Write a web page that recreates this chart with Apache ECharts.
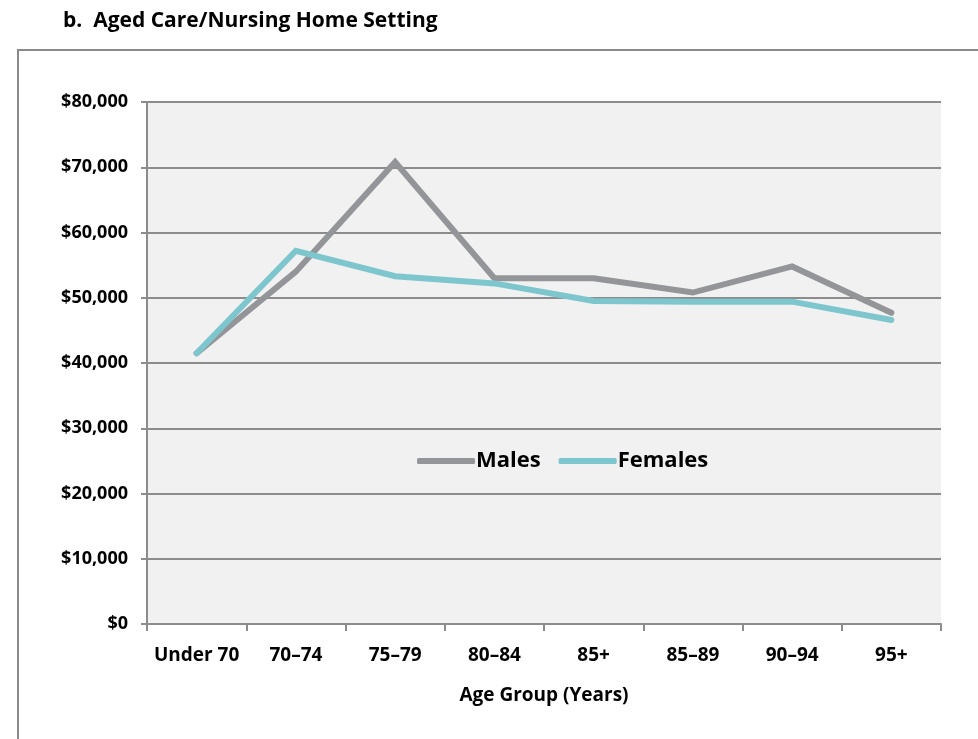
<!DOCTYPE html>
<html>
<head>
<meta charset="utf-8">
<script src="https://cdn.jsdelivr.net/npm/echarts@6/dist/echarts.min.js"></script>
<style>
  html, body { margin: 0; padding: 0; background: #fff; }
  #chart { width: 978px; height: 739px; }
</style>
</head>
<body>
<div id="chart"></div>
<script>
const ageGroups = ['Under 70', '70–74', '75–79', '80–84', '85+', '85–89', '90–94', '95+'];
const males = [41500, 54000, 70800, 53000, 53000, 50800, 54800, 47700];
const females = [41500, 57200, 53300, 52200, 49500, 49400, 49400, 46600];

const FONT = '"Open Sans", "Liberation Sans", sans-serif';
const MALE_COLOR = '#939598';
const FEMALE_COLOR = '#7ec6ce';

const chart = echarts.init(document.getElementById('chart'), null, { renderer: 'canvas' });

chart.setOption({
  animation: false,
  title: {
    text: 'b.  Aged Care/Nursing Home Setting',
    left: 58,
    top: 6,
    textStyle: { fontFamily: FONT, fontSize: 21, fontWeight: 'bold', color: '#000' },
  },
  graphic: [
    {
      type: 'rect',
      shape: { x: 18, y: 50, width: 1000, height: 760 },
      style: { fill: 'none', stroke: '#8a8a8a', lineWidth: 2 },
      silent: true,
    },
  ],
  legend: {
    left: 412,
    top: 445,
    itemWidth: 58,
    itemHeight: 6,
    itemGap: 18,
    textStyle: { fontFamily: FONT, fontSize: 22, fontWeight: 'bold', color: '#000', padding: [0, 0, 0, -4] },
    data: [
      { name: 'Males', icon: 'roundRect', itemStyle: { color: MALE_COLOR } },
      { name: 'Females', icon: 'roundRect', itemStyle: { color: FEMALE_COLOR } },
    ],
  },
  grid: {
    left: 147,
    right: 37,
    top: 102,
    bottom: 115,
    show: true,
    backgroundColor: '#f1f1f1',
    borderWidth: 0,
    containLabel: false,
  },
  xAxis: {
    type: 'category',
    data: ageGroups,
    boundaryGap: true,
    name: 'Age Group (Years)',
    nameLocation: 'middle',
    nameGap: 62,
    nameTextStyle: { fontFamily: FONT, fontSize: 19, fontWeight: 'bold', color: '#000' },
    axisLine: { lineStyle: { color: '#8c8c8c', width: 2 } },
    axisTick: { show: true, alignWithLabel: false, length: 7, lineStyle: { color: '#8c8c8c', width: 2 } },
    axisLabel: { fontFamily: FONT, fontSize: 19, fontWeight: 'bold', color: '#000', margin: 22, interval: 0 },
    splitLine: { show: false },
  },
  yAxis: {
    type: 'value',
    min: 0,
    max: 80000,
    interval: 10000,
    axisLine: { show: true, lineStyle: { color: '#8c8c8c', width: 2 } },
    axisTick: { show: true, length: 6, lineStyle: { color: '#8c8c8c', width: 2 } },
    axisLabel: {
      fontFamily: FONT,
      fontSize: 18,
      fontWeight: 'bold',
      color: '#000',
      margin: 19,
      formatter: (v) => '$' + v.toLocaleString('en-US'),
    },
    splitLine: { show: true, lineStyle: { color: '#8c8c8c', width: 2 } },
  },
  series: [
    {
      name: 'Males',
      type: 'line',
      data: males,
      symbol: 'none',
      lineStyle: { color: MALE_COLOR, width: 6, cap: 'round', join: 'miter' },
      itemStyle: { color: MALE_COLOR },
      z: 3,
    },
    {
      name: 'Females',
      type: 'line',
      data: females,
      symbol: 'none',
      lineStyle: { color: FEMALE_COLOR, width: 6, cap: 'round', join: 'miter' },
      itemStyle: { color: FEMALE_COLOR },
      z: 4,
    },
  ],
});
</script>
</body>
</html>
